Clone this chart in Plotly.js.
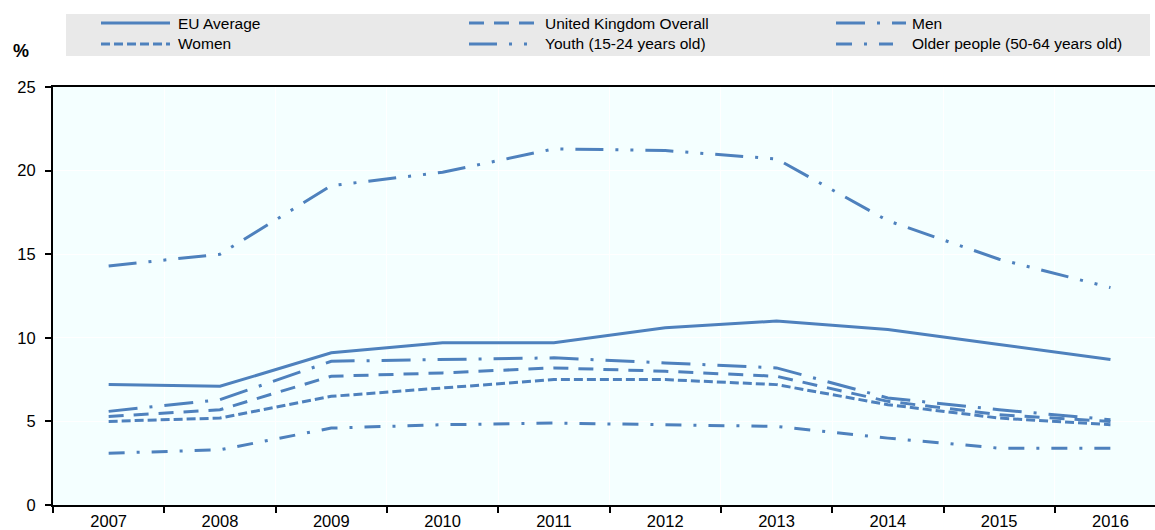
<!DOCTYPE html>
<html>
<head>
<meta charset="utf-8">
<script src="https://cdn.plot.ly/plotly-3.0.1.min.js"></script>
<style>html,body{margin:0;padding:0;background:#fff;}#chart{width:1155px;height:530px;}</style>
</head>
<body>
<div id="chart"></div>
<script>
// ---- data ----
var years = ['2007','2008','2009','2010','2011','2012','2013','2014','2015','2016'];
var euAverage = [7.2, 7.1, 9.1, 9.7, 9.7, 10.6, 11.0, 10.5, 9.6, 8.7];
var ukOverall = [5.3, 5.7, 7.7, 7.9, 8.2, 8.0, 7.7, 6.2, 5.4, 5.0];
var men       = [5.6, 6.3, 8.6, 8.7, 8.8, 8.5, 8.2, 6.4, 5.7, 5.1];
var women     = [5.0, 5.2, 6.5, 7.0, 7.5, 7.5, 7.2, 6.0, 5.2, 4.8];
var youth     = [14.3, 15.0, 19.1, 19.9, 21.3, 21.2, 20.7, 17.0, 14.7, 13.0];
var older     = [3.1, 3.3, 4.6, 4.8, 4.9, 4.8, 4.7, 4.0, 3.4, 3.4];
var seriesNames = ['EU Average','United Kingdom Overall','Men','Women','Youth (15-24 years old)','Older people (50-64 years old)'];

// ---- styles ----
var COLOR = '#4e81bd';
var dashes = ['solid','15px,10px','29px,12px,3px,12px','9px,4px','28px,12px,3px,12px,3px,12px','16px,12px,3px,12px'];
var seriesData = [euAverage, ukOverall, men, women, youth, older];

var traces = seriesData.map(function(vals, i){
  return {
    type:'scatter', mode:'lines', x: years, y: vals, name: seriesNames[i],
    line:{color: COLOR, width: 3, dash: dashes[i]},
    showlegend:false, hoverinfo:'skip'
  };
});

// pixel helpers for legend placement (plot area: x 53..1155, y 87..505)
var L = 53, T = 87, W = 1102, H = 418;
function px(x){ return (x - L) / W; }
function py(y){ return (T + H - y) / H; }

var FONT = 'Liberation Sans, Arial, sans-serif';
var shapes = [
  {type:'rect', xref:'paper', yref:'paper', x0:px(66), x1:px(1150), y0:py(56), y1:py(14),
   fillcolor:'#e9e9e9', line:{width:0}, layer:'below'}
];
var annotations = [
  {xref:'paper', yref:'paper', x:px(11), y:py(51), text:'<b>%</b>', showarrow:false,
   xanchor:'left', yanchor:'middle', font:{family:FONT, size:18, color:'#000'}}
];
// legend entries: [lineX0, lineX1, textX, rowY]
var legPos = [
  [101,170,176,23],[469,538,543,23],[836,906,910,23],
  [101,170,176,44],[469,538,543,44],[836,893,910,44]
];
[0,1,2,3,4,5].forEach(function(i){
  var p = legPos[i];
  shapes.push({type:'line', xref:'paper', yref:'paper', x0:px(p[0]), x1:px(p[1]), y0:py(p[3]), y1:py(p[3]),
    line:{color:COLOR, width:3, dash:dashes[i]}});
  annotations.push({xref:'paper', yref:'paper', x:px(p[2]), y:py(p[3]), text:seriesNames[i], showarrow:false,
    xanchor:'left', yanchor:'middle', font:{family:FONT, size:15.5, color:'#000'}});
});

var layout = {
  width:1155, height:530,
  margin:{l:L, r:0, t:T, b:530-T-H, pad:0},
  paper_bgcolor:'#ffffff', plot_bgcolor:'#f4ffff',
  font:{family:FONT, size:16.5, color:'#000'},
  showlegend:false,
  xaxis:{type:'category', range:[-0.5, 9.4], tickson:'boundaries', ticks:'outside', ticklen:6, tickwidth:2,
    tickcolor:'#000', showgrid:true, gridcolor:'#ffffff', gridwidth:1, showline:true, linecolor:'#000',
    linewidth:2, mirror:true, tickfont:{family:FONT, size:16.5, color:'#000'}, fixedrange:true},
  yaxis:{range:[0,25], dtick:5, tick0:0, ticks:'outside', ticklen:6, tickwidth:2, tickcolor:'#000',
    showgrid:true, gridcolor:'#ffffff', gridwidth:1, zeroline:false, showline:true, linecolor:'#000',
    linewidth:2, ticklabelstandoff:6, tickfont:{family:FONT, size:16.5, color:'#000'}, fixedrange:true},
  shapes:shapes, annotations:annotations
};

Plotly.newPlot('chart', traces, layout, {displayModeBar:false, staticPlot:true});
</script>
</body>
</html>
